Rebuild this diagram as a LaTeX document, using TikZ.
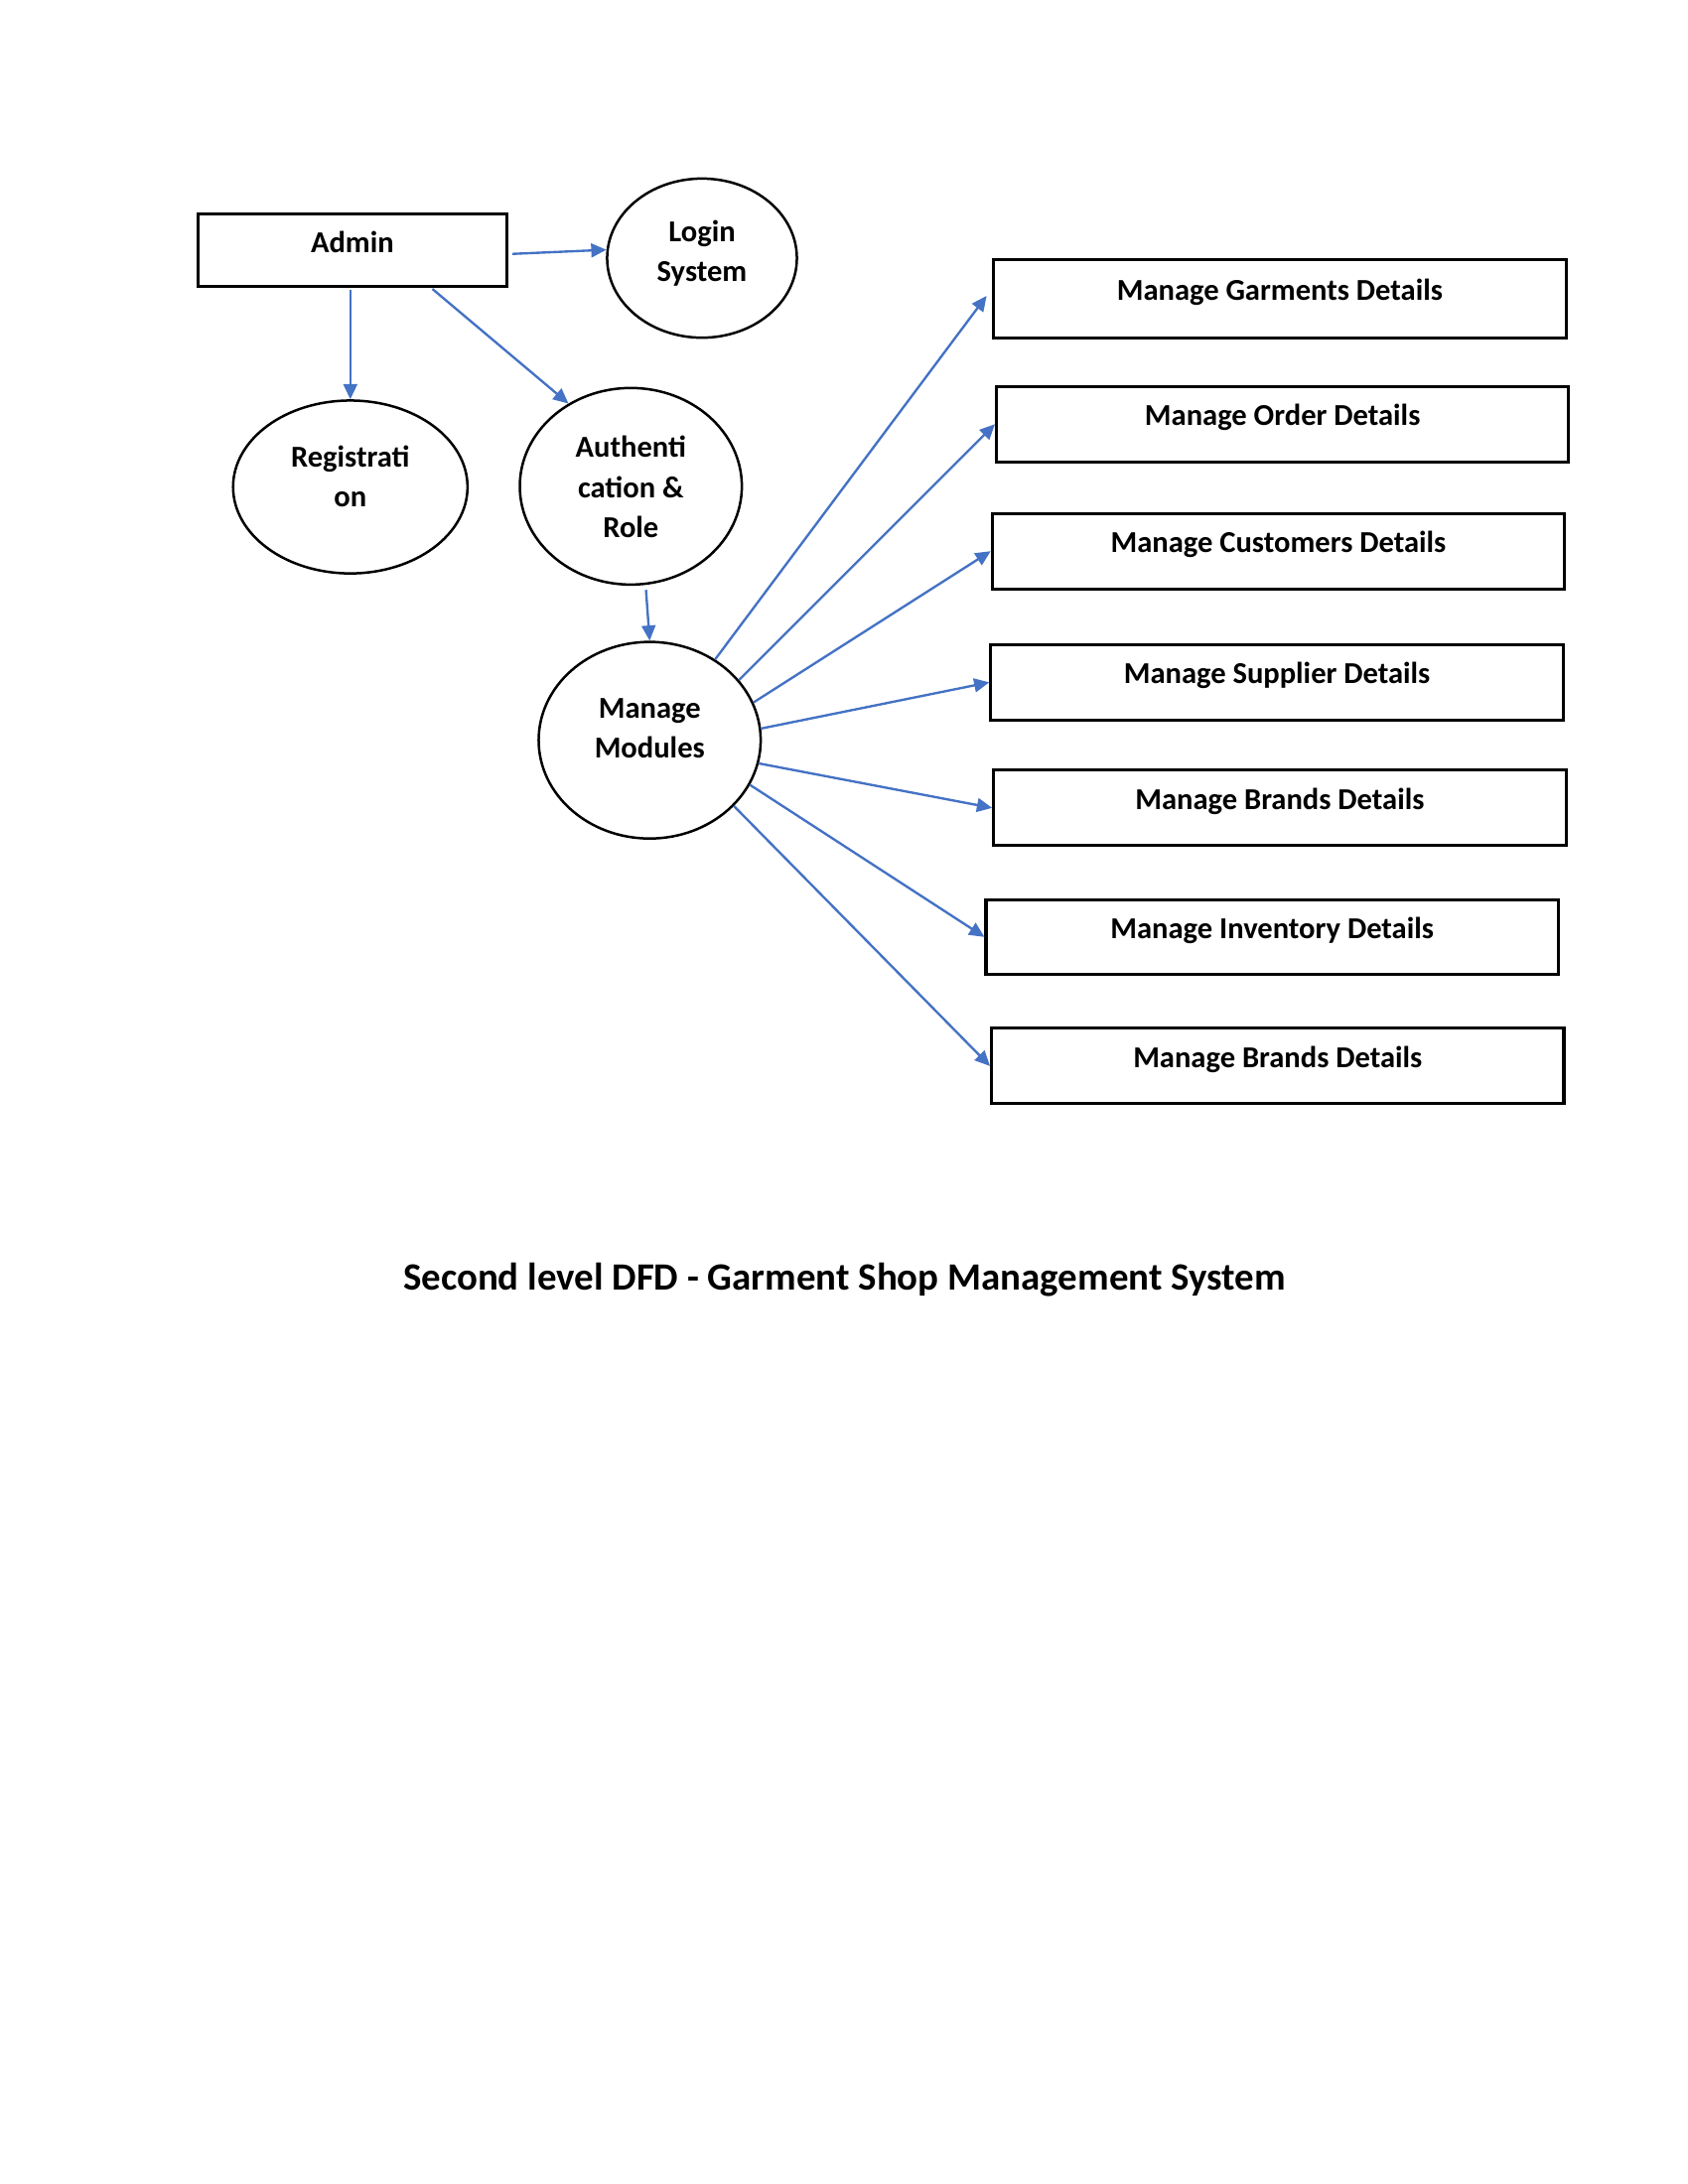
\documentclass[tikz,border=0pt]{standalone}
\usepackage{fontspec}
\setmainfont{Carlito}
\usetikzlibrary{shapes.geometric,arrows.meta}
\definecolor{arrblue}{HTML}{4472C4}
\begin{document}
\begin{tikzpicture}[x=0.506pt,y=-0.506pt,
  every node/.style={font=\fontsize{11}{14.5}\selectfont\bfseries},
  mbox/.style={draw,line width=1.1pt,minimum width=207.5pt,minimum height=27.3pt,inner sep=0pt,text height=6pt,text depth=4.9pt},
  bub/.style={draw,ellipse,line width=0.9pt,inner sep=0pt},
  txt/.style={align=center,inner sep=0pt},
  arr/.style={draw=arrblue,line width=0.85pt,-{Triangle[length=5.5pt,width=5pt,fill=arrblue]}}]
\useasboundingbox (0pt,0pt) rectangle (612pt,-792pt);
% entities and processes
\node[mbox,minimum width=111.8pt,minimum height=26.3pt,text height=7pt,text depth=4.9pt] (admin) at (252.5,179) {Admin};
\node[bub,minimum width=68.8pt,minimum height=57.7pt] (login) at (503,185) {};
\node[txt] (loginT) at (503,181.5) {Login\\System};
\node[bub,minimum width=85pt,minimum height=62.7pt] (reg) at (251,349) {};
\node[txt] (regT) at (251,341.5) {Registrati\\on};
\node[bub,minimum width=80.5pt,minimum height=71.3pt] (auth) at (452,348.5) {};
\node[txt] (authT) at (452,349) {Authenti\\cation \&\\Role};
\node[bub,minimum width=80.5pt,minimum height=71.3pt] (mm) at (465.5,530.5) {};
\node[txt] (mmT) at (465.5,522) {Manage\\Modules};
% module boxes
\node[mbox,minimum height=28.3pt] (b1) at (917,214) {Manage Garments Details};
\node[mbox] (b2) at (919,304) {Manage Order Details};
\node[mbox] (b3) at (916,395) {Manage Customers Details};
\node[mbox] (b4) at (915,489) {Manage Supplier Details};
\node[mbox] (b5) at (917,579) {Manage Brands Details};
\node[mbox,minimum height=26.8pt] (b6) at (911.5,671.5) {Manage Inventory Details};
\node[mbox] (b7) at (915.5,764) {Manage Brands Details};
% title
\node[font=\fontsize{14}{16}\selectfont\bfseries] (title) at (605,917) {Second level DFD - Garment Shop Management System};
% connectors
\draw[arr] ([xshift=1.5pt,yshift=-1.5pt]admin.east) -- (login.175);
\draw[arr] ([yshift=-1pt]admin.south -| reg.north) -- (reg.north);
\draw[arr] ([xshift=29pt,yshift=-0.5pt]admin.south) -- (auth.127);
\draw[arr] ([xshift=5.5pt,yshift=-1.5pt]auth.south) -- (mm.north);
\draw[arr] (mm.51) -- ([xshift=-2pt,yshift=1pt]b1.west);
\draw[arr] (mm.34.5) -- (b2.west);
\draw[arr] (mm.20) -- (b3.west);
\draw[arr] (mm.6) -- (b4.west);
\draw[arr] (mm.-12) -- (b5.west);
\draw[arr] (mm.-24) -- (b6.west);
\draw[arr] (mm.-38) -- (b7.west);
\end{tikzpicture}
\end{document}
